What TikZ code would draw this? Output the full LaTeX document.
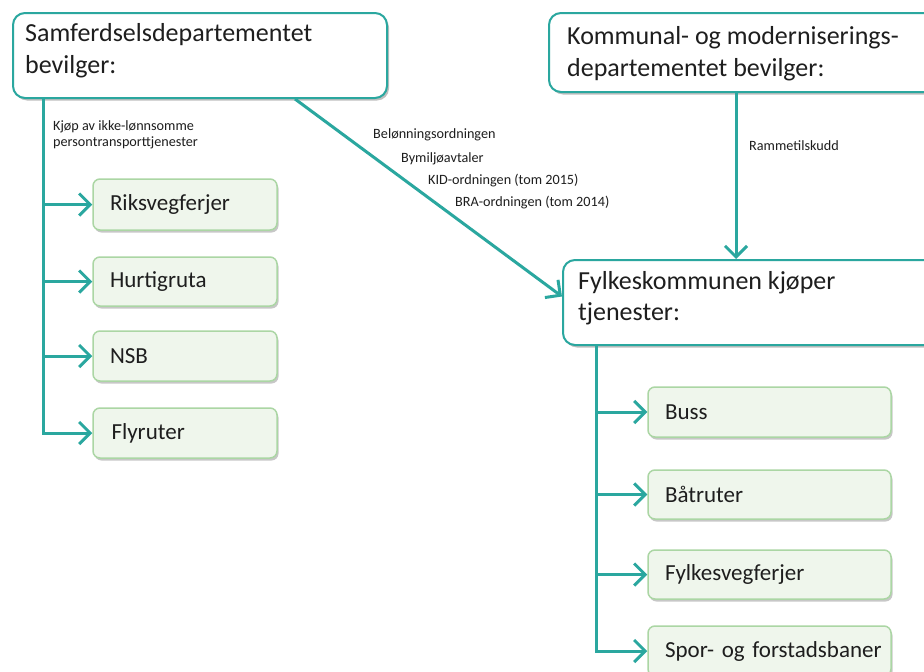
\documentclass[tikz,border=0pt]{standalone}
\usepackage{fontspec}
\setmainfont{Carlito}
\usetikzlibrary{arrows.meta,shadows}
\definecolor{teal1}{HTML}{2AA79F}
\definecolor{lgfill}{HTML}{EFF6EC}
\definecolor{lgdraw}{HTML}{ABD6A4}
\definecolor{txt}{HTML}{1E1E1E}
\tikzset{
  titlebox/.style={draw=teal1, line width=2pt, fill=white, rounded corners=12pt,
    drop shadow={shadow xshift=2pt, shadow yshift=-2.5pt, opacity=0.25, fill=black}},
  titletext/.style={anchor=west, inner sep=0pt, text=txt, align=left,
    font=\fontsize{26}{32}\selectfont},
  itembox/.style={draw=lgdraw, line width=1.5pt, fill=lgfill, rounded corners=7pt,
    inner xsep=17pt, inner ysep=0pt, align=left, text=txt,
    font=\fontsize{23}{26}\selectfont,
    drop shadow={shadow xshift=1.5pt, shadow yshift=-2.5pt, opacity=0.22, fill=black}},
  smalltext/.style={anchor=west, inner sep=0pt, text=txt, align=left,
    font=\fontsize{14.2}{16}\selectfont},
  conn/.style={draw=teal1, line width=3pt},
  arr/.style={conn, -{Straight Barb[length=11pt,width=22pt,line width=3pt]}},
}
\begin{document}
\begin{tikzpicture}[x=1pt,y=-1pt]
\useasboundingbox[fill=white] (0,0) rectangle (924,672);

% title boxes
\node[titlebox, minimum width=374pt, minimum height=85pt] (sam) at (200,55.5) {};
\node[titletext] (samt) at (25,51) {Samferdselsdepartementet\\bevilger:};

\node[titlebox, minimum width=392pt, minimum height=79pt] (kmd) at (745,52.5) {};
\node[titletext] (kmdt) at (567,53.5) {Kommunal- og moderniserings-\\departementet bevilger:};

\node[titlebox, minimum width=374pt, minimum height=85pt] (fylke) at (750,302.5) {};
\node[titletext, font=\fontsize{26}{31}\selectfont] (fylket) at (578,298.5) {Fylkeskommunen kjøper\\tjenester:};

% left items
\node[itembox, text width=150pt, minimum height=51pt] (riks) at (185,204.5) {Riksvegferjer};
\node[itembox, text width=150pt, minimum height=49pt] (hurt) at (185,281.5) {Hurtigruta};
\node[itembox, text width=150pt, minimum height=50pt] (nsb) at (185,356) {NSB};
\node[itembox, text width=147pt, inner xsep=18.5pt, minimum height=50pt] (fly) at (185,433) {Flyruter};

% right items
\node[itembox, text width=209pt, minimum height=50pt] (buss) at (769.5,412) {Buss};
\node[itembox, text width=209pt, minimum height=49pt] (baat) at (769.5,494.5) {Båtruter};
\node[itembox, text width=209pt, minimum height=49pt] (fvf) at (769.5,574.5) {Fylkesvegferjer};
\node[itembox, text width=209pt, minimum height=50pt] (spor) at (769.5,651) {\mbox{Spor- og forstadsbaner}\hss};

% left trunk
\coordinate (tl) at (43,0);
\draw[conn] (sam.south -| tl) -- ([yshift=-1.5pt]fly.west -| tl);
\foreach \n in {riks,hurt,nsb,fly}{\draw[arr] (\n.west -| tl) -- (\n.west);}

% right trunk
\coordinate (tr) at (596,0);
\draw[conn] (fylke.south -| tr) -- ([yshift=-1.5pt]spor.west -| tr);
\foreach \n in {buss,baat,fvf,spor}{\draw[arr] (\n.west -| tr) -- (\n.west);}

% diagonal and vertical arrows
\coordinate (dg) at (295,0);
\draw[arr] (sam.south -| dg) -- ([yshift=6pt]fylke.west);
\coordinate (vk) at (736,0);
\draw[arr] (kmd.south -| vk) -- (fylke.north -| vk);

% labels
\node[smalltext] (lk) at (53,135) {Kjøp av ikke-lønnsomme\\persontransporttjenester};
\node[smalltext] (l1) at (373,135) {Belønningsordningen};
\node[smalltext] (l2) at (401,159) {Bymiljøavtaler};
\node[smalltext] (l3) at (428,181) {KID-ordningen (tom 2015)};
\node[smalltext] (l4) at (455,203) {BRA-ordningen (tom 2014)};
\node[smalltext] (lr) at (749,146) {Rammetilskudd};
\end{tikzpicture}
\end{document}
